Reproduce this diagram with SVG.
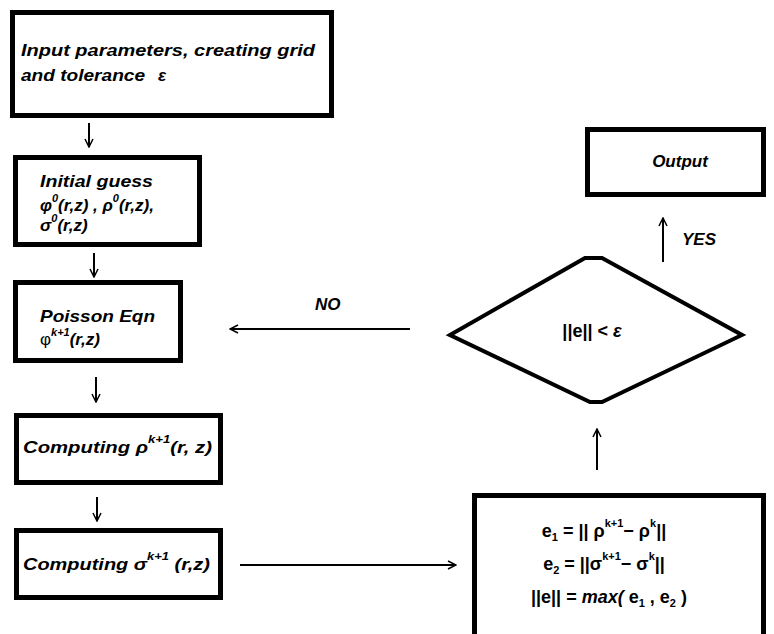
<svg xmlns="http://www.w3.org/2000/svg" width="774" height="634" viewBox="0 0 774 634">
<defs>
<style>
.box{fill:#fff;stroke:#000;stroke-width:5}
.dia{fill:#fff;stroke:#000;stroke-width:4;stroke-linejoin:miter}
.t{font-family:"Liberation Sans",Arial,sans-serif;font-weight:bold;font-style:italic;font-size:17px;fill:#000}
.n{font-family:"Liberation Sans",Arial,sans-serif;font-weight:bold;font-size:18px;fill:#000}
.sup{font-size:11px}
.c{stroke:#000;stroke-width:2;fill:none}
</style>
<marker id="ah" viewBox="0 0 10 10" refX="9" refY="5" markerWidth="10" markerHeight="10" markerUnits="userSpaceOnUse" orient="auto">
<path d="M1,1 L9,5 L1,9" fill="none" stroke="#000" stroke-width="1.5"/>
</marker>
</defs>
<rect width="774" height="634" fill="#fff"/>
<g id="connectors">
<line class="c" x1="89" y1="123" x2="89" y2="147" marker-end="url(#ah)"/>
<line class="c" x1="94" y1="253" x2="94" y2="277" marker-end="url(#ah)"/>
<line class="c" x1="96" y1="377" x2="96" y2="402" marker-end="url(#ah)"/>
<line class="c" x1="97" y1="497" x2="97" y2="521" marker-end="url(#ah)"/>
<line class="c" x1="240" y1="565" x2="456" y2="565" marker-end="url(#ah)"/>
<line class="c" x1="597" y1="470" x2="597" y2="429" marker-end="url(#ah)"/>
<line class="c" x1="663" y1="262" x2="663" y2="218" marker-end="url(#ah)"/>
<line class="c" x1="410" y1="329" x2="230" y2="329" marker-end="url(#ah)"/>
<text class="t" x="315" y="310" font-size="15">NO</text>
<text class="t" x="682" y="245" font-size="15">YES</text>
</g>
<g id="input">
<rect class="box" x="12.5" y="12.5" width="319" height="103"/>
<text class="t" x="21" y="56" textLength="294" lengthAdjust="spacingAndGlyphs">Input parameters, creating grid</text>
<text class="t" x="21" y="81" textLength="124" lengthAdjust="spacingAndGlyphs">and tolerance</text>
<text class="t" x="158" y="81">ε</text>
</g>
<g id="initial">
<rect class="box" x="15.5" y="157.5" width="184" height="87"/>
<text class="t" x="40" y="187" textLength="113" lengthAdjust="spacingAndGlyphs">Initial guess</text>
<text class="t" x="40" y="211">φ<tspan class="sup" dy="-9">0</tspan><tspan dy="9">(r,z) , ρ</tspan><tspan class="sup" dy="-9">0</tspan><tspan dy="9">(r,z),</tspan></text>
<text class="t" x="40" y="231">σ<tspan class="sup" dy="-9">0</tspan><tspan dy="9">(r,z)</tspan></text>
</g>
<g id="poisson">
<rect class="box" x="15.5" y="282.5" width="165" height="78"/>
<text class="t" x="40" y="322" textLength="115" lengthAdjust="spacingAndGlyphs" font-weight="normal">Poisson Eqn</text>
<text class="t" x="40" y="345"><tspan font-style="normal" font-weight="normal">φ</tspan><tspan class="sup" dy="-9">k+1</tspan><tspan dy="9">(r,z)</tspan></text>
</g>
<g id="rho">
<rect class="box" x="16.5" y="415.5" width="204" height="67"/>
<text class="t" x="23" y="453" textLength="189" lengthAdjust="spacingAndGlyphs">Computing ρ<tspan class="sup" dy="-10">k+1</tspan><tspan dy="10">(r, z)</tspan></text>
</g>
<g id="sigma">
<rect class="box" x="16.5" y="530.5" width="204" height="67"/>
<text class="t" x="23" y="570" textLength="187" lengthAdjust="spacingAndGlyphs">Computing σ<tspan class="sup" dy="-10">k+1</tspan><tspan dy="10"> (r,z)</tspan></text>
</g>
<g id="error">
<rect class="box" x="474.5" y="495.5" width="289" height="150"/>
<text class="n" x="604" y="537" text-anchor="middle">e<tspan class="sup" dy="4">1</tspan><tspan dy="-4"> = || ρ</tspan><tspan class="sup" dy="-10">k+1</tspan><tspan dy="10">− ρ</tspan><tspan class="sup" dy="-10">k</tspan><tspan dy="10">||</tspan></text>
<text class="n" x="604" y="570" text-anchor="middle">e<tspan class="sup" dy="4">2</tspan><tspan dy="-4"> = ||σ</tspan><tspan class="sup" dy="-10">k+1</tspan><tspan dy="10">− σ</tspan><tspan class="sup" dy="-10">k</tspan><tspan dy="10">||</tspan></text>
<text class="n" x="609" y="603" text-anchor="middle">||e|| = <tspan font-style="italic">max(</tspan> e<tspan class="sup" dy="4">1</tspan><tspan dy="-4"> , e</tspan><tspan class="sup" dy="4">2</tspan><tspan dy="-4"> )</tspan></text>
</g>
<g id="decision">
<polygon class="dia" points="450,335 585,258 602,258 742,335 602,402 590,402"/>
<text class="n" x="592" y="337" text-anchor="middle" font-size="19">||e|| &lt;  <tspan font-style="italic">ε</tspan></text>
</g>
<g id="output">
<rect class="box" x="587.5" y="129.5" width="176" height="65"/>
<text class="t" x="680" y="167" text-anchor="middle" font-size="19">Output</text>
</g>
</svg>
